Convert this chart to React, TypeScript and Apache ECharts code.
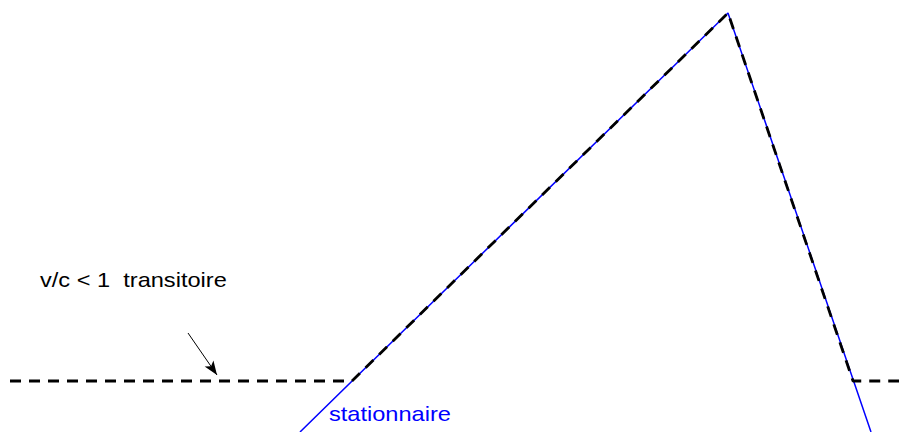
import React, { useEffect, useRef } from "react";
import * as echarts from "echarts";

// Plot coordinates (x in 0..899, y in 0..432, y up)
const stationnaireX = [300, 728, 871];
const stationnaireY = [0, 419, 0];
const transitoireX = [10, 352, 728, 853, 899];
const transitoireY = [51, 51, 419, 51, 51];
const arrowFrom = [188, 99];
const arrowTo = [217, 57];
const labelTransitoire = "v/c < 1  transitoire";
const labelStationnaire = "stationnaire";

export default function App() {
  const ref = useRef<HTMLDivElement>(null);
  useEffect(() => {
    if (!ref.current) return;
    const chart = echarts.init(ref.current, null, { renderer: "svg" });
    const stat = stationnaireX.map((x, i) => [x, stationnaireY[i]]);
    const trans = transitoireX.map((x, i) => [x, transitoireY[i]]);
    chart.setOption({
      animation: false,
      backgroundColor: "#ffffff",
      grid: { left: 0, right: 0, top: 0, bottom: 0 },
      xAxis: { type: "value", min: 0, max: 899, show: false },
      yAxis: { type: "value", min: 0, max: 432, show: false },
      series: [
        {
          type: "line",
          data: stat,
          symbol: "none",
          lineStyle: { color: "#0000ff", width: 1.5 },
          z: 2,
        },
        {
          type: "line",
          data: trans,
          symbol: "none",
          lineStyle: { color: "#000000", width: 2.8, type: [11, 8] },
          z: 3,
          markLine: {
            silent: true,
            symbol: ["none", "arrow"],
            symbolSize: [8, 14],
            label: { show: false },
            lineStyle: { color: "#000000", width: 1, type: "solid" },
            data: [[{ coord: arrowFrom }, { coord: arrowTo }]],
          },
        },
      ],
      graphic: [
        {
          type: "text",
          x: 40,
          y: 280,
          scaleX: 1.18,
          style: {
            text: labelTransitoire,
            fontFamily: "Liberation Sans, Arial, sans-serif",
            fontSize: 20,
            fill: "#000000",
            verticalAlign: "middle",
          },
        },
        {
          type: "text",
          x: 329,
          y: 414,
          scaleX: 1.18,
          style: {
            text: labelStationnaire,
            fontFamily: "Liberation Sans, Arial, sans-serif",
            fontSize: 20,
            fill: "#0000ff",
            verticalAlign: "middle",
          },
        },
      ],
    });
    return () => chart.dispose();
  }, []);
  return (
    <div
      ref={ref}
      style={{ position: "fixed", left: 0, top: 0, width: 899, height: 432 }}
    />
  );
}
